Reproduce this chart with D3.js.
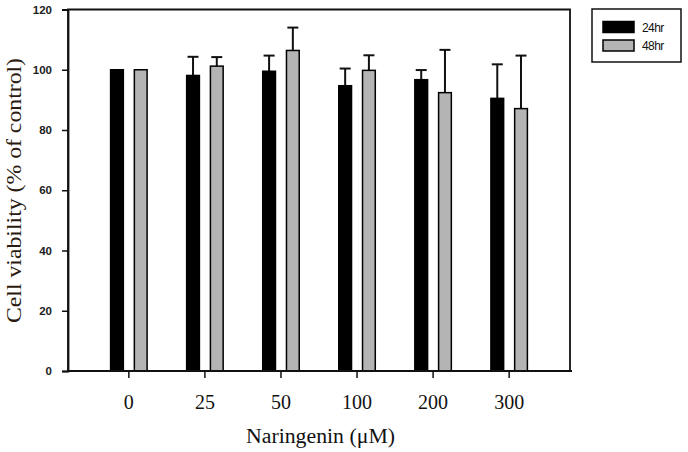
<!DOCTYPE html>
<html><head><meta charset="utf-8">
<script src="https://cdn.jsdelivr.net/npm/d3@7"></script>
<style>body{margin:0;background:#fff}svg{display:block}</style>
</head><body>
<svg id="c" width="688" height="452"></svg>
<script>
const categories = ["0","25","50","100","200","300"];
const series = ["24hr","48hr"];
const values24 = [100, 98.1, 99.5, 94.7, 96.7, 90.5];
const err24    = [0, 6.2, 5.2, 5.7, 3.2, 11.3];
const values48 = [100, 101.2, 106.4, 99.8, 92.4, 87.1];
const err48    = [0, 3.0, 7.6, 5.0, 14.2, 17.6];
const yTicks = [0,20,40,60,80,100,120];
const colors = {"24hr":"#000000","48hr":"#b4b4b4"};

const svg = d3.select("#c");
const L=68, R=570, T=9.5, B=371;
const x = d3.scaleBand().domain(categories).range([L,R]).paddingOuter(0.3).paddingInner(0);
const x1 = d3.scaleBand().domain(series).range([-19,19]).paddingInner(0.4).paddingOuter(0);
const y = d3.scaleLinear().domain([0,120]).range([B,T]);

const data = categories.map((c,i)=>({cat:c, vals:[
  {s:"24hr", v:values24[i], e:err24[i]},
  {s:"48hr", v:values48[i], e:err48[i]}]}));

// bars
const g = svg.append("g");
const grp = g.selectAll("g.grp").data(data).join("g")
  .attr("transform", d=>`translate(${x(d.cat)+x.bandwidth()/2},0)`);
grp.selectAll("line.err").data(d=>d.vals.filter(v=>v.e>0)).join("line")
  .attr("x1", d=>x1(d.s)+x1.bandwidth()/2).attr("x2", d=>x1(d.s)+x1.bandwidth()/2)
  .attr("y1", d=>y(d.v)).attr("y2", d=>y(d.v+d.e))
  .attr("stroke","#111").attr("stroke-width",2);
grp.selectAll("line.cap").data(d=>d.vals.filter(v=>v.e>0)).join("line")
  .attr("x1", d=>x1(d.s)+x1.bandwidth()/2-5.5).attr("x2", d=>x1(d.s)+x1.bandwidth()/2+5.5)
  .attr("y1", d=>y(d.v+d.e)).attr("y2", d=>y(d.v+d.e))
  .attr("stroke","#111").attr("stroke-width",2);
grp.selectAll("rect").data(d=>d.vals).join("rect")
  .attr("x", d=>x1(d.s)+0.75).attr("width", x1.bandwidth()-1.5)
  .attr("y", d=>y(d.v)).attr("height", d=>B-y(d.v))
  .attr("fill", d=>colors[d.s]).attr("stroke","#000").attr("stroke-width",1.5);

// frame
svg.append("path").attr("d",`M${L},${B}V${T}H${R}V${B}`).attr("fill","none").attr("stroke","#111").attr("stroke-width",1.8);

// y axis
const ya = svg.append("g").attr("transform",`translate(${L},0)`)
  .call(d3.axisLeft(y).tickValues(yTicks).tickSize(6).tickPadding(10));
ya.select(".domain").attr("stroke","#111").attr("stroke-width",1.8);
ya.selectAll(".tick line").attr("stroke","#111").attr("stroke-width",1.5);
ya.selectAll(".tick text").attr("font-family","Liberation Sans, Arial, sans-serif")
  .attr("font-size",11.5).attr("font-weight","bold").attr("fill","#222");

// x axis
const xa = svg.append("g").attr("transform",`translate(0,${B})`)
  .call(d3.axisBottom(x).tickSize(7).tickPadding(17).tickSizeOuter(0));
xa.select(".domain").attr("d",`M${L},0H${R+2}`).attr("stroke","#111").attr("stroke-width",1.8);
xa.selectAll(".tick line").attr("stroke","#111").attr("stroke-width",1.5);
xa.selectAll(".tick text").attr("font-family","Liberation Serif, Times New Roman, serif")
  .attr("font-size",20).attr("fill","#111");

// titles
svg.append("text").attr("x",320.5).attr("y",443).attr("text-anchor","middle")
  .attr("font-family","Liberation Serif, Times New Roman, serif").attr("font-size",20).attr("fill","#111")
  .attr("textLength",149).attr("lengthAdjust","spacingAndGlyphs")
  .text("Naringenin (μM)");
svg.append("text").attr("transform","translate(21,190.5) rotate(-90)").attr("text-anchor","middle")
  .attr("font-family","Liberation Serif, Times New Roman, serif").attr("font-size",20).attr("fill","#2a1a10")
  .attr("textLength",265).attr("lengthAdjust","spacingAndGlyphs")
  .text("Cell viability (% of control)");

// legend
const lg = svg.append("g");
lg.append("rect").attr("x",592).attr("y",9).attr("width",89).attr("height",53)
  .attr("fill","#fff").attr("stroke","#111").attr("stroke-width",1.5);
series.forEach((s,i)=>{
  lg.append("rect").attr("x",603).attr("y",21.5+i*18.5).attr("width",31).attr("height",11)
    .attr("fill",colors[s]).attr("stroke","#000").attr("stroke-width",1.5);
  lg.append("text").attr("x",642).attr("y",31.5+i*18.5)
    .attr("font-family","Liberation Sans, Arial, sans-serif").attr("font-size",12).attr("fill","#111")
    .attr("letter-spacing",-0.6).text(s);
});
</script>
</body></html>
